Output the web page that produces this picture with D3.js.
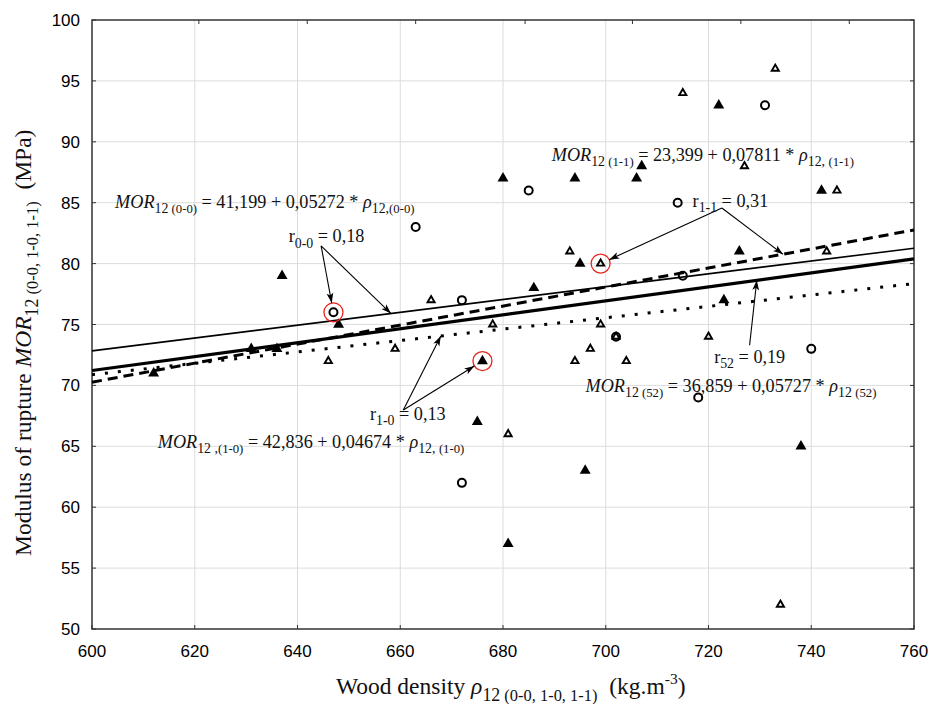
<!DOCTYPE html>
<html>
<head>
<meta charset="utf-8">
<script src="https://cdn.jsdelivr.net/npm/d3@7"></script>
<style>
  body { margin: 0; background: #fff; }
  svg { display: block; }
  text { white-space: pre; }
</style>
</head>
<body>
<div id="chart"></div>
<script>
var xTicks = [600, 620, 640, 660, 680, 700, 720, 740, 760];
var yTicks = [50, 55, 60, 65, 70, 75, 80, 85, 90, 95, 100];
var topTickMarks = [620.8, 641.9, 663.0, 684.3, 705.2, 726.3, 747.4];

// group 0-0 : open circles
var group00 = [[647,76],[663,83],[672,77],[672,62],[685,86],[702,74],[714,85],[715,79],[718,69],[731,93],[740,73]];
// group 1-0 : filled triangles
var group10 = [[612,71],[631,73],[636,73],[637,79],[648,75],[675,67],[676,72],[680,87],[681,57],[686,78],[694,87],[695,80],[696,63],[706,87],[707,88],[722,93],[723,77],[726,81],[738,65],[742,86]];
// group 1-1 : open triangles
var group11 = [[646,72],[659,73],[666,77],[678,75],[681,66],[693,81],[694,72],[697,73],[699,75],[699,80],[702,74],[704,72],[715,94],[720,74],[727,88],[733,96],[734,52],[743,81],[745,86]];
// points marked with a red ring
var circled = [[647,76],[676,72],[699,80]];

var fitNames = ["0-0", "52", "1-1", "1-0"];
var fitIntercepts = [41.199, 36.859, 23.399, 42.836];
var fitSlopes = [0.05272, 0.05727, 0.07811, 0.04674];

var width = 931, height = 704,
    margin = {top: 20, right: 17, bottom: 75, left: 92},
    w = width - margin.left - margin.right,
    h = height - margin.top - margin.bottom;

var svg = d3.select("#chart").append("svg")
    .attr("width", width)
    .attr("height", height);

var x = d3.scaleLinear().domain([600, 760]).range([0, w]);
var y = d3.scaleLinear().domain([50, 100]).range([h, 0]);

var g = svg.append("g")
    .attr("transform", "translate(" + margin.left + "," + margin.top + ")");

// grid
g.selectAll(".vgrid").data(xTicks.slice(1, -1)).join("line")
    .attr("x1", d => x(d)).attr("x2", d => x(d))
    .attr("y1", 0).attr("y2", h)
    .attr("stroke", "#dcdcdc").attr("stroke-width", 1);
g.selectAll(".hgrid").data(yTicks.slice(1, -1)).join("line")
    .attr("y1", d => y(d)).attr("y2", d => y(d))
    .attr("x1", 0).attr("x2", w)
    .attr("stroke", "#dcdcdc").attr("stroke-width", 1);

// inner ticks
g.selectAll(".bt").data(xTicks).join("line")
    .attr("x1", d => x(d)).attr("x2", d => x(d)).attr("y1", h).attr("y2", h - 4)
    .attr("stroke", "#333");
g.selectAll(".tt").data(topTickMarks).join("line")
    .attr("x1", d => x(d)).attr("x2", d => x(d)).attr("y1", 0).attr("y2", 4)
    .attr("stroke", "#333");
g.selectAll(".lt").data(yTicks).join("line")
    .attr("y1", d => y(d)).attr("y2", d => y(d)).attr("x1", 0).attr("x2", 4)
    .attr("stroke", "#333");
g.selectAll(".rt").data(yTicks).join("line")
    .attr("y1", d => y(d)).attr("y2", d => y(d)).attr("x1", w).attr("x2", w - 4)
    .attr("stroke", "#333");

g.append("rect")
    .attr("width", w).attr("height", h)
    .attr("fill", "none").attr("stroke", "#333").attr("stroke-width", 1.5);

// tick labels
g.selectAll(".xl").data(xTicks).join("text")
    .attr("x", d => x(d)).attr("y", h + 28)
    .attr("text-anchor", "middle")
    .attr("font-family", "'Liberation Sans', Arial, sans-serif")
    .attr("font-size", "17px")
    .text(d => d);
g.selectAll(".yl").data(yTicks).join("text")
    .attr("x", -12).attr("y", d => y(d) + 6)
    .attr("text-anchor", "end")
    .attr("font-family", "'Liberation Sans', Arial, sans-serif")
    .attr("font-size", "17px")
    .text(d => d);

// rich text with italics, subscripts, superscripts
function richText(parent, px, py, size, segs) {
  var t = parent.append("text")
      .attr("x", px).attr("y", py)
      .attr("font-family", "'Liberation Serif', 'Times New Roman', serif")
      .attr("font-size", size + "px")
      .attr("fill", "#111");
  var shift = 0;
  segs.forEach(function(s) {
    var kind = s[1] || "", target = 0, fs = size;
    if (kind.indexOf("sub") >= 0) { target = size * 0.3; fs = size * 0.76; }
    if (kind.indexOf("tiny") >= 0) { target = size * 0.3; fs = size * 0.7; }
    if (kind.indexOf("sup") >= 0) { target = -size * 0.42; fs = size * 0.66; }
    t.append("tspan")
        .attr("dy", target - shift)
        .attr("font-size", fs + "px")
        .attr("font-style", kind.indexOf("i") === 0 ? "italic" : "normal")
        .text(s[0]);
    shift = target;
  });
  return t;
}

// regression lines
var lineStyle = {
  "0-0": {w: 1.6, dash: null},
  "52":  {w: 3.2, dash: null},
  "1-1": {w: 3, dash: "10,6"},
  "1-0": {w: 3, dash: "3,10"}
};
fitNames.forEach(function(name, i) {
  var f = v => fitIntercepts[i] + fitSlopes[i] * v;
  g.append("line")
      .attr("x1", x(600)).attr("y1", y(f(600)))
      .attr("x2", x(760)).attr("y2", y(f(760)))
      .attr("stroke", "#000")
      .attr("stroke-width", lineStyle[name].w)
      .attr("stroke-dasharray", lineStyle[name].dash);
});

// markers
g.selectAll(".c00").data(group00).join("circle")
    .attr("cx", d => x(d[0])).attr("cy", d => y(d[1]))
    .attr("r", 4).attr("fill", "none").attr("stroke", "#000").attr("stroke-width", 2);
g.selectAll(".t11").data(group11).join("path")
    .attr("transform", d => "translate(" + x(d[0]) + "," + y(d[1]) + ")")
    .attr("d", d3.symbol(d3.symbolTriangle, 22))
    .attr("fill", "none").attr("stroke", "#000").attr("stroke-width", 1.9);
g.selectAll(".t10").data(group10).join("path")
    .attr("transform", d => "translate(" + x(d[0]) + "," + y(d[1]) + ")")
    .attr("d", d3.symbol(d3.symbolTriangle, 52))
    .attr("fill", "#000");

g.selectAll(".ring").data(circled).join("circle")
    .attr("cx", d => x(d[0])).attr("cy", d => y(d[1]))
    .attr("r", 9.5).attr("fill", "none").attr("stroke", "#e8231c").attr("stroke-width", 1.3);

// annotations
var fs = 18.2;
function fitAt(name, v) {
  var i = fitNames.indexOf(name);
  return [v, fitIntercepts[i] + fitSlopes[i] * v];
}
richText(g, x(604.5), y(84.57), fs, [["MOR","i"],["12","sub"],[" (0-0)","tiny"],[" = 41,199 + 0,05272 * "],["\u03C1","i"],["12,","sub"],["(0-0)","tiny"]]);
richText(g, x(689.5), y(88.45), fs, [["MOR","i"],["12","sub"],[" (1-1)","tiny"],[" = 23,399 + 0,07811 * "],["\u03C1","i"],["12, ","sub"],["(1-1)","tiny"]]);
richText(g, x(716.9), y(84.65), fs, [["r"],["1-1","sub"],[" = 0,31"]]);
richText(g, x(638.3), y(81.77), fs, [["r"],["0-0","sub"],[" = 0,18"]]);
richText(g, x(721.1), y(71.84), fs, [["r"],["52","sub"],[" = 0,19"]]);
richText(g, x(752.7), y(69.46), fs, [["MOR","i"],["12","sub"],[" (52)","tiny"],[" = 36,859 + 0,05727 * "],["\u03C1","i"],["12 ","sub"],["(52)","tiny"]])
    .attr("text-anchor", "end");
richText(g, x(654.1), y(67.16), fs, [["r"],["1-0","sub"],[" = 0,13"]]);
richText(g, x(612.8), y(64.86), fs, [["MOR","i"],["12 ,","sub"],["(1-0)","tiny"],[" = 42,836 + 0,04674 * "],["\u03C1","i"],["12, ","sub"],["(1-0)","tiny"]]);

// arrows
svg.append("defs").append("marker")
    .attr("id", "arrow")
    .attr("viewBox", "0 0 10 8")
    .attr("refX", 10).attr("refY", 4)
    .attr("markerWidth", 10).attr("markerHeight", 8)
    .attr("markerUnits", "userSpaceOnUse")
    .attr("orient", "auto")
  .append("path")
    .attr("d", "M0,0.6 L10,4 L0,7.4 L2.5,4 Z")
    .attr("fill", "#000");

var arrows = [
  {from: [644.6, 81.45], to: circled[0], ring: true},
  {from: [644.6, 81.45], to: fitAt("0-0", 658.2)},
  {from: [722.6, 84.57], to: circled[2], ring: true},
  {from: [722.6, 84.57], to: fitAt("1-1", 734.5)},
  {from: [660.6, 67.98], to: fitAt("1-0", 667.9)},
  {from: [660.6, 67.98], to: circled[1], ring: true},
  {from: [728.0, 73.3], to: fitAt("52", 729.4)}
];
arrows.forEach(function(a) {
  var x1 = x(a.from[0]), y1 = y(a.from[1]), x2 = x(a.to[0]), y2 = y(a.to[1]);
  if (a.ring) {
    var dx = x2 - x1, dy = y2 - y1, len = Math.sqrt(dx * dx + dy * dy);
    x2 -= dx / len * 9.5; y2 -= dy / len * 9.5;
  }
  g.append("line")
      .attr("x1", x1).attr("y1", y1).attr("x2", x2).attr("y2", y2)
      .attr("stroke", "#000").attr("stroke-width", 1.1)
      .attr("marker-end", "url(#arrow)");
});

// axis titles
richText(svg, 0, 0, 23.5, [["Wood density "],["\u03C1","i"],["12","sub"],[" (0-0, 1-0, 1-1)","tiny"],["  (kg.m"],["-3","sup"],[")"]])
    .attr("x", margin.left + x(681.5)).attr("y", 694).attr("text-anchor", "middle");
richText(svg, 0, 0, 23.5, [["Modulus of rupture "],["MOR","i"],["12","sub"],[" (0-0, 1-0, 1-1)","tiny"],["  (MPa)"]])
    .attr("text-anchor", "middle")
    .attr("transform", "translate(31," + (margin.top + y(73.5)) + ") rotate(-90)");
</script>
</body>
</html>
